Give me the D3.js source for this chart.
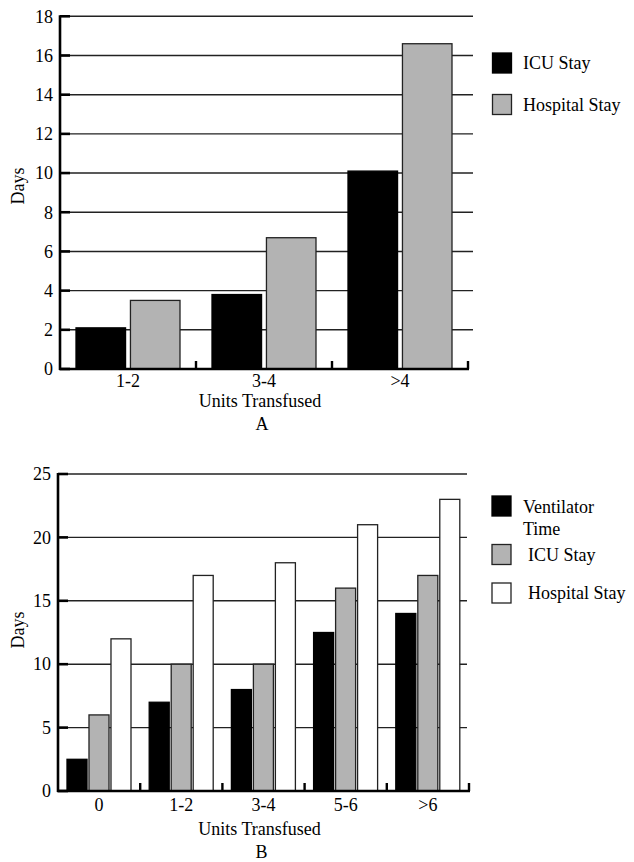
<!DOCTYPE html>
<html>
<head>
<meta charset="utf-8">
<script src="https://cdn.jsdelivr.net/npm/d3@7"></script>
<style>
  html, body { margin: 0; padding: 0; background: #fff; }
  svg text { font-family: "Liberation Serif", "Times New Roman", serif; fill: #000; }
</style>
</head>
<body>
<svg id="chart" width="634" height="862"></svg>
<script>
// Panel A: length of stay by units transfused
const catsA = ["1-2", "3-4", ">4"];
const seriesA = ["ICU Stay", "Hospital Stay"];
const icuA = [2.1, 3.8, 10.1];
const hospA = [3.5, 6.7, 16.6];
const ticksA = [0, 2, 4, 6, 8, 10, 12, 14, 16, 18];

// Panel B: ventilator time and length of stay by units transfused
const catsB = ["0", "1-2", "3-4", "5-6", ">6"];
const seriesB = ["Ventilator Time", "ICU Stay", "Hospital Stay"];
const ventB = [2.5, 7, 8, 12.5, 14];
const icuB = [6, 10, 10, 16, 17];
const hospB = [12, 17, 18, 21, 23];
const ticksB = [0, 5, 10, 15, 20, 25];

const fills = { black: "#000", gray: "#b3b3b3", white: "#fff" };

const svg = d3.select("#chart");

function panel(opt) {
  const g = svg.append("g");
  const { x0, x1, y0, y1, cats, series, values, colors, ticks, yMax, inner, gridEnd, letter, legend } = opt;

  const y = d3.scaleLinear().domain([0, yMax]).range([y0, y1]);
  const x = d3.scaleBand().domain(cats).range([x0, x1]).paddingInner(0).paddingOuter(0);
  const xs = d3.scaleBand().domain(series).range(inner).paddingInner(inner[2]);

  // horizontal grid lines
  g.append("g").selectAll("line").data(ticks.filter(t => t > 0)).join("line")
    .attr("x1", x0).attr("x2", gridEnd)
    .attr("y1", d => y(d)).attr("y2", d => y(d))
    .attr("stroke", "#222").attr("stroke-width", 1.4);

  // bars
  const rows = cats.map((c, i) => ({ cat: c, vals: series.map((s, j) => ({ s, v: values[j][i], c: colors[j] })) }));
  g.append("g").selectAll("g").data(rows).join("g")
    .attr("transform", d => `translate(${x(d.cat)},0)`)
    .selectAll("rect").data(d => d.vals).join("rect")
    .attr("x", d => xs(d.s))
    .attr("width", xs.bandwidth())
    .attr("y", d => y(d.v))
    .attr("height", d => y(0) - y(d.v))
    .attr("fill", d => fills[d.c])
    .attr("stroke", d => d.c === "black" ? "#000" : "#222")
    .attr("stroke-width", 1.3);

  // y axis
  const ya = d3.axisLeft(y).tickValues(ticks).tickSize(0).tickPadding(7);
  const yg = g.append("g").attr("transform", `translate(${x0},0)`).call(ya);
  yg.attr("font-family", null);
  yg.select(".domain").remove();
  yg.selectAll("text").attr("font-size", 18);
  g.append("g").selectAll("line").data(ticks).join("line")
    .attr("x1", x0).attr("x2", x0 + 10)
    .attr("y1", d => y(d)).attr("y2", d => y(d))
    .attr("stroke", "#000").attr("stroke-width", 2.6);
  g.append("line").attr("x1", x0).attr("x2", x0).attr("y1", y(0) + 1).attr("y2", y(yMax) - 1)
    .attr("stroke", "#000").attr("stroke-width", 2.6);

  // x axis
  g.append("line").attr("x1", x0 - 1).attr("x2", x1 + 1).attr("y1", y(0)).attr("y2", y(0))
    .attr("stroke", "#000").attr("stroke-width", 2.6);
  g.append("g").selectAll("line").data(cats).join("line")
    .attr("x1", d => x(d) + x.bandwidth()).attr("x2", d => x(d) + x.bandwidth())
    .attr("y1", y(0)).attr("y2", y(0) - 8)
    .attr("stroke", "#000").attr("stroke-width", 2.4);
  g.append("g").selectAll("text").data(cats).join("text")
    .attr("x", d => x(d) + x.bandwidth() / 2)
    .attr("y", y(0) + opt.labOff[0])
    .attr("text-anchor", "middle").attr("font-size", 18)
    .text(d => d);

  const cx = (x0 + x1) / 2 - 4;
  g.append("text").attr("x", cx).attr("y", y(0) + opt.labOff[1]).attr("text-anchor", "middle")
    .attr("font-size", 18).text("Units Transfused");
  g.append("text").attr("x", cx + 2).attr("y", y(0) + opt.labOff[2]).attr("text-anchor", "middle")
    .attr("font-size", 18).text(letter);

  g.append("text")
    .attr("transform", `translate(${opt.titleX},${opt.titleY}) rotate(-90)`)
    .attr("text-anchor", "middle").attr("font-size", 18).text("Days");

  // legend
  const lg = g.append("g");
  legend.forEach((it, i) => {
    lg.append("rect").attr("x", it.sx).attr("y", it.sy).attr("width", 19).attr("height", 20)
      .attr("fill", fills[colors[i]]).attr("stroke", colors[i] === "black" ? "#000" : "#222")
      .attr("stroke-width", 1.3);
    it.lines.forEach((ln, k) => {
      lg.append("text").attr("x", it.tx).attr("y", it.ty + k * 22)
        .attr("font-size", 18).text(ln);
    });
  });
}

panel({
  x0: 60, x1: 468, y0: 369, y1: 16.3, yMax: 18,
  cats: catsA, series: seriesA, values: [icuA, hospA], colors: ["black", "gray"],
  ticks: ticksA, inner: [16, 120, 0.09], gridEnd: 473, letter: "A",
  labOff: [18, 38, 61],
  titleX: 24, titleY: 186,
  legend: [
    { sx: 492.5, sy: 53, tx: 523, ty: 69, lines: ["ICU Stay"] },
    { sx: 492.5, sy: 94.5, tx: 523, ty: 111, lines: ["Hospital Stay"] }
  ]
});

panel({
  x0: 58, x1: 469, y0: 791, y1: 474, yMax: 25,
  cats: catsB, series: seriesB, values: [ventB, icuB, hospB], colors: ["black", "gray", "white"],
  ticks: ticksB, inner: [9, 73, 0.09], gridEnd: 467, letter: "B",
  labOff: [20, 44, 67],
  titleX: 24, titleY: 630,
  legend: [
    { sx: 492, sy: 496, tx: 523, ty: 513, lines: ["Ventilator", "Time"] },
    { sx: 492, sy: 544.5, tx: 528, ty: 561, lines: ["ICU Stay"] },
    { sx: 492, sy: 583, tx: 528, ty: 599, lines: ["Hospital Stay"] }
  ]
});
</script>
</body>
</html>
